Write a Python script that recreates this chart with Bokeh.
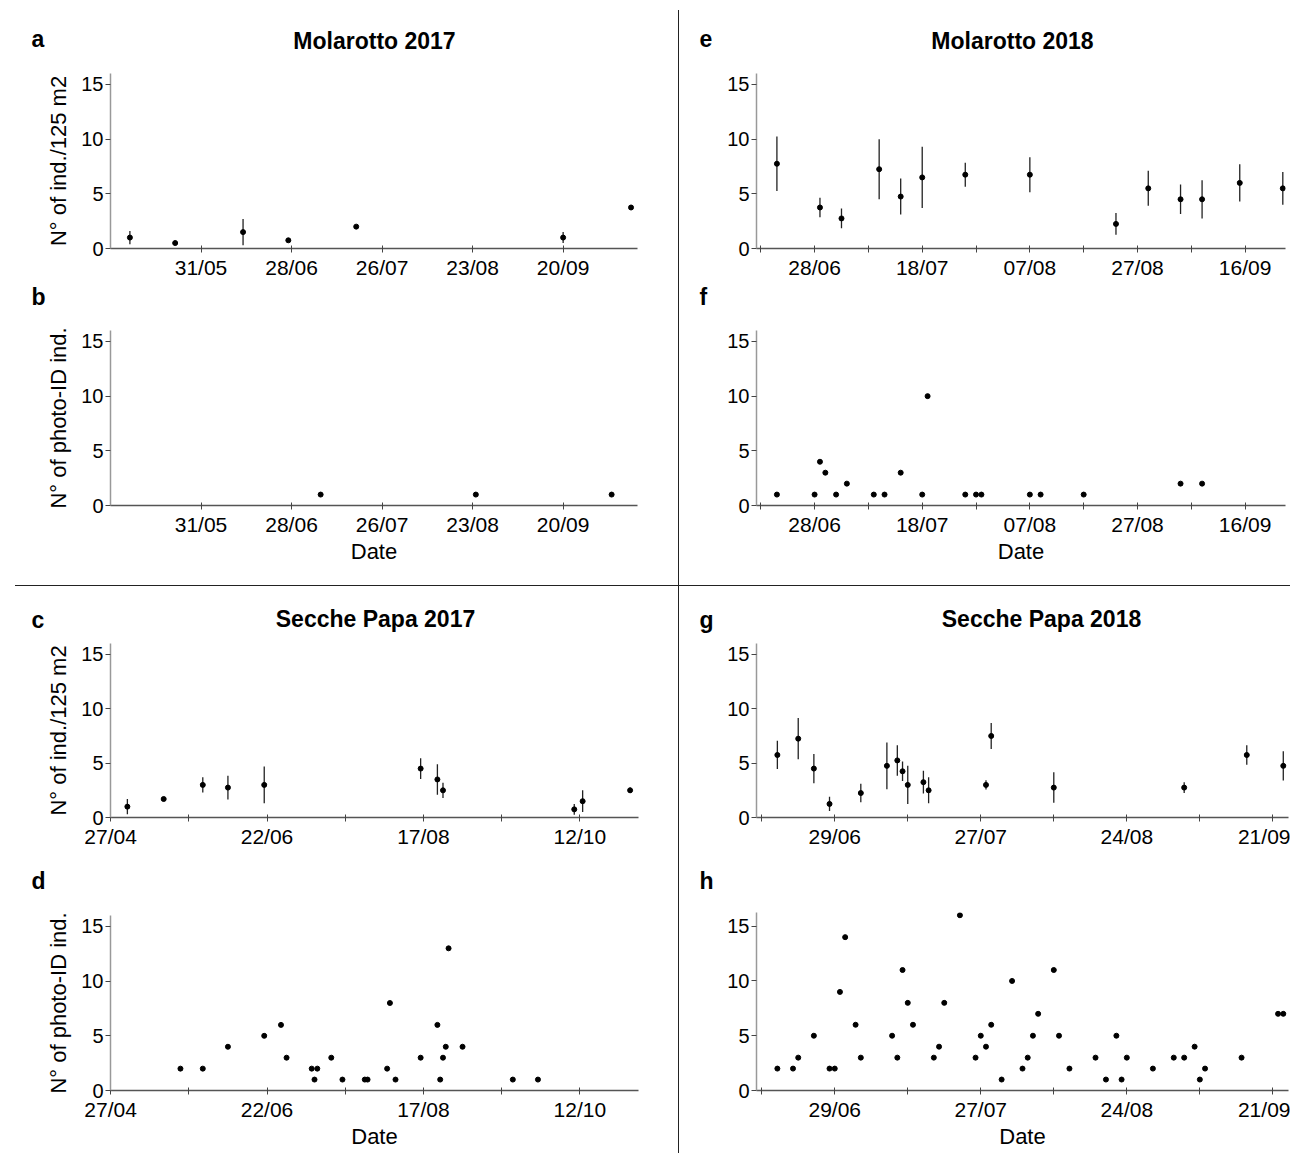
import pandas as pd
from bokeh.plotting import figure
from bokeh.models import (Range1d, FixedTicker, CustomJSTickFormatter, Div, Spacer)
from bokeh.core.properties import value
from bokeh.layouts import row, column
from bokeh.embed import file_html
from bokeh.resources import INLINE

FONT = "Liberation Sans"

# ---------------- data ----------------
# a: Molarotto 2017, density (mean, error)
dates_a = ["2017-05-09", "2017-05-23", "2017-06-13", "2017-06-27", "2017-07-18",
           "2017-09-20", "2017-10-11"]
vals_a = [1.0, 0.5, 1.5, 0.75, 2.0, 1.0, 3.75]
err_a = [0.6, 0.2, 1.2, 0.15, 0.0, 0.5, 0.2]

# b: Molarotto 2017, photo-ID individuals
dates_b = ["2017-07-07", "2017-08-24", "2017-10-05"]
vals_b = [1, 1, 1]

# c: Secche Papa 2017, density
dates_c = ["2017-05-03", "2017-05-16", "2017-05-30", "2017-06-08", "2017-06-21",
           "2017-08-16", "2017-08-22", "2017-08-24", "2017-10-10", "2017-10-13",
           "2017-10-30"]
vals_c = [1.0, 1.7, 3.0, 2.75, 3.0, 4.5, 3.5, 2.5, 0.75, 1.5, 2.5]
err_c = [0.7, 0.15, 0.7, 1.1, 1.7, 0.95, 1.4, 0.7, 0.5, 1.0, 0.25]

# d: Secche Papa 2017, photo-ID individuals
dates_d = ["2017-05-22", "2017-05-30", "2017-06-08", "2017-06-21", "2017-06-27",
           "2017-06-29", "2017-07-08", "2017-07-09", "2017-07-10", "2017-07-15",
           "2017-07-19", "2017-07-27", "2017-07-28", "2017-08-04", "2017-08-05",
           "2017-08-07", "2017-08-16", "2017-08-22", "2017-08-23", "2017-08-24",
           "2017-08-25", "2017-08-26", "2017-08-31", "2017-09-18", "2017-09-27"]
vals_d = [2, 2, 4, 5, 6, 3, 2, 1, 2, 3, 1, 1, 1, 2, 8, 1, 3, 6, 1, 3, 4, 13, 4, 1, 1]

# e: Molarotto 2018, density
dates_e = ["2018-06-21", "2018-06-29", "2018-07-03", "2018-07-10", "2018-07-14",
           "2018-07-18", "2018-07-26", "2018-08-07", "2018-08-23", "2018-08-29",
           "2018-09-04", "2018-09-08", "2018-09-15", "2018-09-23"]
vals_e = [7.75, 3.75, 2.75, 7.25, 4.75, 6.5, 6.75, 6.75, 2.25, 5.5, 4.5, 4.5, 6.0, 5.5]
err_e = [2.5, 0.9, 0.9, 2.75, 1.65, 2.8, 1.1, 1.6, 1.0, 1.6, 1.35, 1.75, 1.7, 1.5]

# f: Molarotto 2018, photo-ID individuals
dates_f = ["2018-06-21", "2018-06-28", "2018-06-29", "2018-06-30", "2018-07-02",
           "2018-07-04", "2018-07-09", "2018-07-11", "2018-07-14", "2018-07-18",
           "2018-07-19", "2018-07-26", "2018-07-28", "2018-07-29", "2018-08-07",
           "2018-08-09", "2018-08-17", "2018-09-04", "2018-09-08"]
vals_f = [1, 1, 4, 3, 1, 2, 1, 1, 3, 1, 10, 1, 1, 1, 1, 1, 1, 2, 2]

# g: Secche Papa 2018, density
dates_g = ["2018-06-18", "2018-06-22", "2018-06-25", "2018-06-28", "2018-07-04",
           "2018-07-09", "2018-07-11", "2018-07-12", "2018-07-13", "2018-07-16",
           "2018-07-17", "2018-07-28", "2018-07-29", "2018-08-10", "2018-09-04",
           "2018-09-16", "2018-09-23"]
vals_g = [5.75, 7.25, 4.5, 1.25, 2.25, 4.75, 5.25, 4.25, 3.0, 3.25, 2.5, 3.0, 7.5,
          2.75, 2.75, 5.75, 4.75]
err_g = [1.3, 1.9, 1.35, 0.65, 0.85, 2.15, 1.4, 0.9, 1.75, 1.05, 1.2, 0.42, 1.2,
         1.4, 0.5, 0.9, 1.35]

# h: Secche Papa 2018, photo-ID individuals
dates_h = ["2018-06-18", "2018-06-21", "2018-06-22", "2018-06-25", "2018-06-28",
           "2018-06-29", "2018-06-30", "2018-07-01", "2018-07-03", "2018-07-04",
           "2018-07-10", "2018-07-11", "2018-07-12", "2018-07-13", "2018-07-14",
           "2018-07-18", "2018-07-19", "2018-07-20", "2018-07-23", "2018-07-26",
           "2018-07-27", "2018-07-28", "2018-07-29", "2018-07-31", "2018-08-02",
           "2018-08-04", "2018-08-05", "2018-08-06", "2018-08-07", "2018-08-10",
           "2018-08-11", "2018-08-13", "2018-08-18", "2018-08-20", "2018-08-22",
           "2018-08-23", "2018-08-24", "2018-08-29", "2018-09-02", "2018-09-04",
           "2018-09-06", "2018-09-07", "2018-09-08", "2018-09-15", "2018-09-22",
           "2018-09-23"]
vals_h = [2, 2, 3, 5, 2, 2, 9, 14, 6, 3, 5, 3, 11, 8, 6, 3, 4, 8, 16, 3, 5, 4, 6,
          1, 10, 2, 3, 5, 7, 11, 5, 2, 3, 1, 5, 1, 3, 2, 3, 3, 4, 1, 2, 3, 7, 7]

# axis ticks
ticks_ab = ["2017-05-31", "2017-06-28", "2017-07-26", "2017-08-23", "2017-09-20"]
ticks_cd = ["2017-04-27", "2017-06-22", "2017-08-17", "2017-10-12"]
minor_cd = ["2017-05-25", "2017-07-20", "2017-09-14"]
ticks_ef = ["2018-06-28", "2018-07-18", "2018-08-07", "2018-08-27", "2018-09-16"]
minor_ef = ["2018-06-18", "2018-07-08", "2018-07-28", "2018-08-17", "2018-09-06"]
ticks_gh = ["2018-06-29", "2018-07-27", "2018-08-24", "2018-09-21"]
minor_gh = ["2018-06-15", "2018-07-13", "2018-08-10", "2018-09-07"]
y_ticks = [0, 5, 10, 15]

ylab_dens = "N° of ind./125 m2"
ylab_photo = "N° of photo-ID ind."


def ms(s):
    return pd.Timestamp(s).value / 1e6


def fmt():
    return CustomJSTickFormatter(code="""
const d = new Date(tick);
const dd = String(d.getUTCDate()).padStart(2, '0');
const mm = String(d.getUTCMonth() + 1).padStart(2, '0');
return dd + '/' + mm;
""")


def no_align(p):
    try:
        p.frame_align = False
    except Exception:
        pass


def panel(width, height, bl, br, bt, bb, xs, xe, ticks, minor, ylabel, xlabel, ytop=16):
    p = figure(width=width, height=height, min_border_left=bl, min_border_right=br,
               min_border_top=bt, min_border_bottom=bb, title=None,
               x_axis_type="datetime", x_range=Range1d(ms(xs), ms(xe)),
               y_range=Range1d(0, ytop), output_backend="svg",
               toolbar_location=None, tools="")
    no_align(p)
    p.xgrid.visible = False
    p.ygrid.visible = False
    p.outline_line_color = None
    p.background_fill_color = "white"
    p.border_fill_color = "white"

    xa = p.xaxis[0]
    xa.ticker = FixedTicker(ticks=[ms(t) for t in ticks],
                            minor_ticks=[ms(t) for t in minor])
    xa.formatter = fmt()
    xa.axis_line_color = "#555555"
    xa.axis_line_width = 1.5
    xa.major_tick_line_color = "#444444"
    xa.major_tick_in = 3
    xa.major_tick_out = 4
    xa.minor_tick_line_color = "#444444"
    xa.minor_tick_in = 3
    xa.minor_tick_out = 4
    xa.major_label_text_font = FONT
    xa.major_label_text_font_size = "21px"
    xa.major_label_text_color = "black"
    xa.major_label_standoff = 3
    if xlabel:
        xa.axis_label = xlabel
        xa.axis_label_text_font = FONT
        xa.axis_label_text_font_size = "22px"
        xa.axis_label_text_font_style = "normal"
        xa.axis_label_text_color = "black"
        xa.axis_label_standoff = 0

    ya = p.yaxis[0]
    ya.ticker = FixedTicker(ticks=y_ticks)
    ya.axis_line_color = "#999999"
    ya.axis_line_width = 1.5
    ya.major_tick_line_color = "#444444"
    ya.major_tick_in = 0
    ya.major_tick_out = 5
    ya.minor_tick_line_color = None
    ya.major_label_text_font = FONT
    ya.major_label_text_font_size = "20px"
    ya.major_label_text_color = "black"
    ya.major_label_standoff = 2
    if ylabel:
        ya.axis_label = ylabel
        ya.axis_label_text_font = FONT
        ya.axis_label_text_font_size = "22px"
        ya.axis_label_text_font_style = "normal"
        ya.axis_label_text_color = "black"
        ya.axis_label_standoff = 7
    return p


def draw(p, dates, vals, errs=None):
    xs = [ms(d) for d in dates]
    if errs is not None:
        lo = [v - e for v, e in zip(vals, errs)]
        hi = [v + e for v, e in zip(vals, errs)]
        p.segment(x0=xs, y0=lo, x1=xs, y1=hi, line_color="#222222", line_width=1.3)
    p.scatter(x=xs, y=vals, size=5, color="black")


def header(width, height, items):
    """A strip holding the panel letter and title, in pixel coordinates."""
    p = figure(width=width, height=height, x_range=Range1d(0, width),
               y_range=Range1d(height, 0), min_border=0, title=None,
               x_axis_location=None, y_axis_location=None,
               output_backend="svg", toolbar_location=None, tools="")
    no_align(p)
    p.xgrid.visible = False
    p.ygrid.visible = False
    p.outline_line_color = None
    p.background_fill_color = "white"
    p.border_fill_color = "white"
    for x, y, s, align in items:
        p.text(x=[x], y=[y], text=[s], text_font=value(FONT),
               text_font_size="23px", text_font_style="bold",
               text_align=align, text_baseline="middle", text_color="black")
    return p


# ---------------- left column ----------------
LW = 678
ha = header(LW, 60, [(31, 38, "a", "left"), (374, 40, "Molarotto 2017", "center")])
fa = panel(LW, 221, 110, 41, 13, 33, "2017-05-03", "2017-10-13", ticks_ab, [], ylab_dens, None)
draw(fa, dates_a, vals_a, err_a)

hb = header(LW, 44, [(31, 15, "b", "left")])
fb = panel(LW, 260, 110, 41, 5, 80, "2017-05-03", "2017-10-13", ticks_ab, [], ylab_photo, "Date")
draw(fb, dates_b, vals_b)

hc = header(LW, 50, [(31, 33, "c", "left"), (375, 32, "Secche Papa 2017", "center")])
fc = panel(LW, 224, 110, 40, 7, 43, "2017-04-26 23:00", "2017-11-02", ticks_cd, minor_cd, ylab_dens, None)
draw(fc, dates_c, vals_c, err_c)

hd = header(LW, 40, [(31, 20, "d", "left")])
fd = panel(LW, 253, 110, 40, 15, 63, "2017-04-26 23:00", "2017-11-02", ticks_cd, minor_cd, ylab_photo, "Date")
draw(fd, dates_d, vals_d)

hline_left = row(Spacer(width=15, height=1, margin=0),
                 Div(text="", width=LW - 15, height=1, margin=0,
                     styles={"background-color": "#222222"}))

left = column(ha, fa, hb, fb, hline_left, hc, fc, hd, fd, spacing=0)

# ---------------- right column ----------------
RW = 611
he = header(RW, 60, [(20, 38, "e", "left"), (333, 40, "Molarotto 2018", "center")])
fe = panel(RW, 221, 77, 5, 13, 33, "2018-06-17 05:00", "2018-09-23 12:00", ticks_ef, minor_ef, None, None)
draw(fe, dates_e, vals_e, err_e)

hf = header(RW, 44, [(20, 15, "f", "left")])
ff = panel(RW, 260, 77, 5, 5, 80, "2018-06-17 05:00", "2018-09-23 12:00", ticks_ef, minor_ef, None, "Date")
draw(ff, dates_f, vals_f)

hg = header(RW, 50, [(20, 33, "g", "left"), (362, 32, "Secche Papa 2018", "center")])
fg = panel(RW, 224, 77, 2, 7, 43, "2018-06-14", "2018-09-24", ticks_gh, minor_gh, None, None)
draw(fg, dates_g, vals_g, err_g)

hh = header(RW, 37, [(20, 20, "h", "left")])
fh = panel(RW, 256, 77, 2, 15, 63, "2018-06-14", "2018-09-24", ticks_gh, minor_gh, None, "Date", ytop=16.25)
draw(fh, dates_h, vals_h)

hline_right = Div(text="", width=RW, height=1, margin=0,
                  styles={"background-color": "#222222"})

right = column(he, fe, hf, ff, hline_right, hg, fg, hh, fh, spacing=0)

vline = column(Spacer(width=1, height=10, margin=0),
               Div(text="", width=1, height=1143, margin=0,
                   styles={"background-color": "#222222"}), spacing=0)

layout = row(left, vline, right, spacing=0)

open("out.html", "w").write(file_html(layout, INLINE))
